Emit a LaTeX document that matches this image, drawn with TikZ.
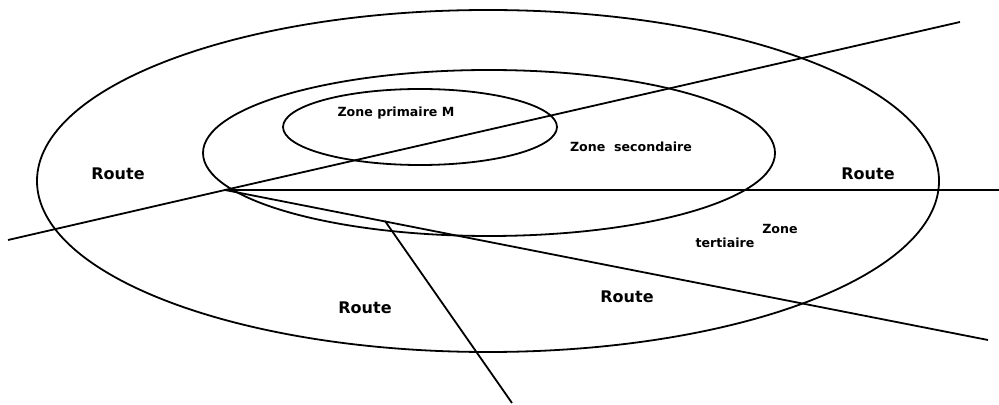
\documentclass[tikz,border=0pt]{standalone}
\usepackage{fontspec}
\setmainfont{DejaVu Sans}
\usetikzlibrary{calc}

\tikzset{
  zone/.style={line width=0.9pt},
  route/.style={line width=0.9pt},
  lbl/.style={font=\bfseries\fontsize{8}{9}\selectfont, inner sep=0pt},
  zlbl/.style={font=\bfseries\fontsize{6.3}{7}\selectfont, inner sep=0pt},
}

\begin{document}
\begin{tikzpicture}[x=0.5pt, y=-0.5pt]
\useasboundingbox (0,0) rectangle (999,405);

% zones
\draw[zone] (488,181) ellipse (451 and 171);   % zone tertiaire
\draw[zone] (489,153) ellipse (286 and 83);    % zone secondaire
\draw[zone] (420,127) ellipse (137 and 38);    % zone primaire

% carrefour
\coordinate (X) at (225,190);

% routes
\coordinate (r1a) at (8,240);
\coordinate (r1b) at (960,22);
\coordinate (r2b) at (999,190);
\coordinate (r3b) at (988,340);
\coordinate (r4a) at (385,221);
\coordinate (r4b) at (512,403);
\draw[route] (r1a) -- (X) -- (r1b);
\draw[route] (X) -- (r2b);
\draw[route] (X) -- (r3b);
\draw[route] (r4a) -- (r4b);

% textes
\node[zlbl] (zp) at (396,113) {Zone primaire M};
\node[zlbl] (zs) at (631,147) {Zone\ \ secondaire};
\node[zlbl] (zt1) at (780,229) {Zone};
\node[zlbl] (zt2) at (725,243) {tertiaire};
\node[lbl] (rg) at (118,174) {Route};
\node[lbl] (rd) at (868,174) {Route};
\node[lbl] (rb1) at (365,308) {Route};
\node[lbl] (rb2) at (627,297) {Route};

\end{tikzpicture}
\end{document}
